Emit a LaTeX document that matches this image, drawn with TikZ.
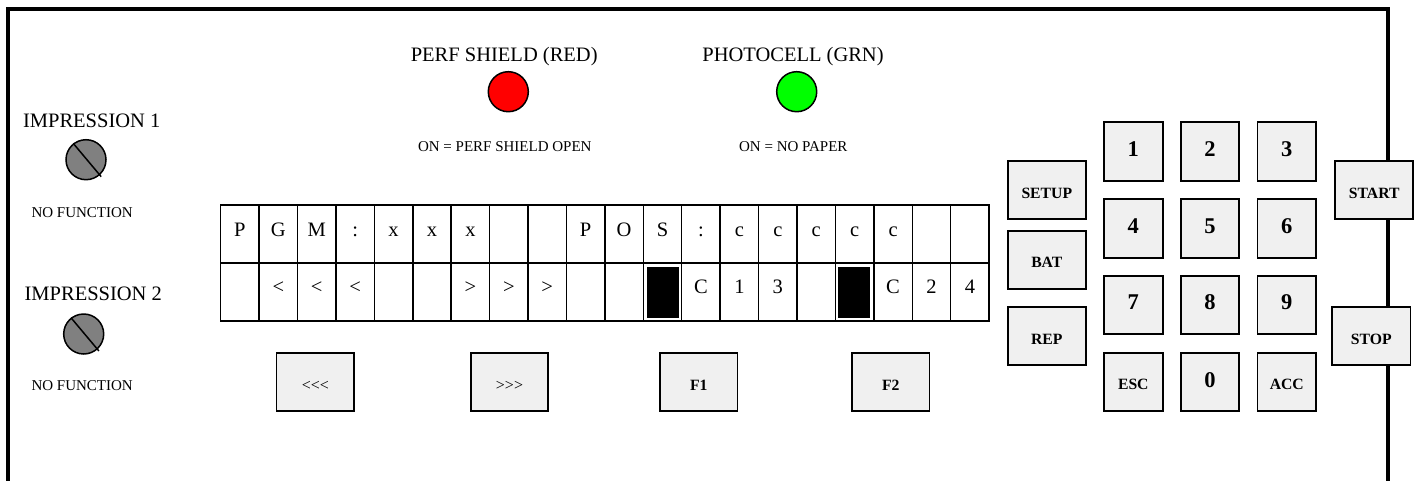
\documentclass[tikz,border=0pt]{standalone}
\usepackage{fontspec}
\setmainfont{Liberation Serif}
\definecolor{keygray}{RGB}{240,240,240}
\definecolor{screwgray}{RGB}{128,128,128}
\definecolor{lampred}{RGB}{255,0,0}
\definecolor{lampgreen}{RGB}{0,255,0}
\newcommand{\lll}{<\kern0pt<\kern0pt<}
\newcommand{\ggg}{>\kern0pt>\kern0pt>}
\begin{document}
\begin{tikzpicture}[x=1pt,y=-1pt,
  key/.style={draw,line width=1.8pt,fill=keygray,minimum width=58.7pt,minimum height=58.7pt,inner sep=0pt},
  wkey/.style={key,minimum width=78.3pt,minimum height=58pt},
  cell/.style={draw,line width=1.5pt,minimum width=38.42pt,minimum height=58pt,inner sep=0pt},
  celltxt/.style={anchor=base,inner sep=0pt,font=\fontsize{20.5}{24}\selectfont},
  numtxt/.style={anchor=base,inner sep=0pt,font=\fontsize{22.5}{26}\selectfont\bfseries},
  wtxt/.style={anchor=base,inner sep=0pt,font=\fontsize{15.7}{18}\selectfont\bfseries},
  rtxt/.style={anchor=base,inner sep=0pt,font=\fontsize{16}{18}\selectfont},
  big/.style={anchor=base,inner sep=0pt,font=\fontsize{20.5}{24}\selectfont},
  small/.style={anchor=base,inner sep=0pt,font=\fontsize{15}{18}\selectfont},
  lamp/.style={circle,draw,line width=1.5pt,minimum size=40pt,inner sep=0pt},
  blk/.style={fill=black,minimum width=32.3pt,minimum height=51.3pt,inner sep=0pt},
]
\useasboundingbox (0,0) rectangle (1416,480);
% frame
\coordinate (fbl) at (8.2,484);
\coordinate (ftl) at (8.2,9.2);
\coordinate (ftr) at (1388,9.2);
\coordinate (fbr) at (1388,484);
\draw[line width=4pt] (fbl) -- (ftl) -- (ftr) -- (fbr);

% left labels and screws
\node[big] (imp1) at (91.7,127) {IMPRESSION 1};
\node[lamp,fill=screwgray] (s1) at (86,159.7) {};
\draw[line width=1.5pt,shorten >=-2pt] (s1.128) -- (s1.-48);
\node[small] (nf1) at (82.2,217.3) {NO FUNCTION};
\node[big] (imp2) at (93.3,300) {IMPRESSION 2};
\node[lamp,fill=screwgray] (s2) at (83.7,334) {};
\draw[line width=1.5pt,shorten >=-2pt] (s2.128) -- (s2.-48);
\node[small] (nf2) at (82.2,390.7) {NO FUNCTION};

% lamps
\node[big] (perf) at (504.2,61.7) {PERF SHIELD (RED)};
\node[lamp,fill=lampred] (red) at (508.3,91.7) {};
\node[small] (perfon) at (504.8,151.7) {ON = PERF SHIELD OPEN};
\node[big] (photo) at (793,61.7) {PHOTOCELL (GRN)};
\node[lamp,fill=lampgreen] (green) at (796.7,91.7) {};
\node[small] (photoon) at (793.3,151.7) {ON = NO PAPER};

% LCD grid
\foreach \ch [count=\i from 0] in {P,G,M,:,x,x,x,{},{},P,O,S,:,c,c,c,c,c,{},{}} {
  \node[cell] (a\i) at (220.7+38.42*\i+19.21,234) {};
  \node[celltxt] (ta\i) at (220.7+38.42*\i+19.21,236) {\ch};
}
\foreach \ch [count=\i from 0] in {{},<,<,<,{},{},>,>,>,{},{},{},C,1,3,{},{},C,2,4} {
  \node[cell] (b\i) at (220.7+38.42*\i+19.21,292) {};
  \node[celltxt] (tb\i) at (220.7+38.42*\i+19.21,293) {\ch};
}
\node[blk] (blk1) at (662.85,292.3) {};
\node[blk] (blk2) at (853.7,292.3) {};

% bottom soft keys
\foreach \n/\x/\t/\s in {kl/315.3/\lll/rtxt, kr/509.5/\ggg/rtxt, kf1/698.8/F1/wtxt, kf2/890.8/F2/wtxt} {
  \node[key,minimum width=77.5pt,minimum height=57.7pt] (\n) at (\x,382.2) {};
  \node[\s] (\n-t) at ([yshift=-38.4pt]\n.north) {\t};
}

% numeric keypad
\foreach \n/\x/\y/\t in {k1/1133.3/151.6/1, k2/1210/151.6/2, k3/1286.8/151.6/3,
  k4/1133.3/228.3/4, k5/1210/228.3/5, k6/1286.8/228.3/6,
  k7/1133.3/305/7, k8/1210/305/8, k9/1286.8/305/9} {
  \node[key] (\n) at (\x,\y) {};
  \node[numtxt] (\n-t) at ([yshift=-35pt]\n.north) {\t};
}
\node[key] (k0) at (1210,382) {};
\node[numtxt] (k0-t) at ([yshift=-35.6pt]k0.north) {0};
\node[key] (kesc) at (1133.3,382) {};
\node[wtxt] (kesc-t) at ([yshift=-38pt]kesc.north) {ESC};
\node[key] (kacc) at (1286.8,382) {};
\node[wtxt] (kacc-t) at ([yshift=-38pt]kacc.north) {ACC};

% function keys
\foreach \n/\x/\y/\t in {ksetup/1046.8/190/SETUP, kbat/1046.8/259.7/BAT, krep/1046.8/336.3/REP,
  kstart/1374.2/190/START, kstop/1371.3/336.3/STOP} {
  \node[wkey] (\n) at (\x,\y) {};
  \node[wtxt] (\n-t) at ([yshift=-38pt]\n.north) {\t};
}
\end{tikzpicture}
\end{document}
